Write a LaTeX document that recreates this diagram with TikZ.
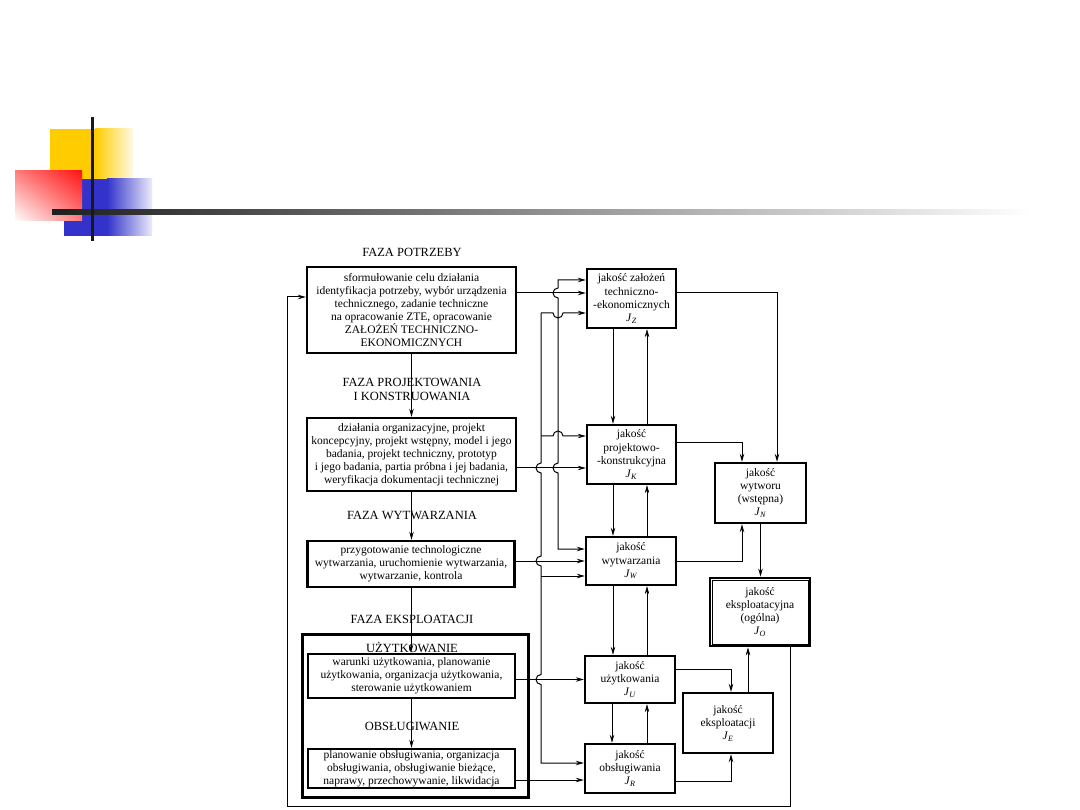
\documentclass[tikz,border=0pt]{standalone}
\usepackage{fontspec}
\setmainfont{Liberation Serif}
\usetikzlibrary{arrows.meta, shadings}

\newcommand{\jq}[1]{\textit{J}\textsubscript{\textit{#1}}}
\definecolor{slideyellow}{RGB}{255,204,0}
\definecolor{slidered}{RGB}{255,20,20}
\definecolor{slideblue}{RGB}{51,51,204}
\tikzset{
  box/.style 2 args={draw, line width=2.4pt, minimum width=#1, minimum height=#2},
  link/.style={-{Stealth[length=8pt, width=4.5pt]}, line width=1pt},
  back/.style={link, line width=0.6pt},
  phaselabel/.style={font=\fontsize{12.5}{13.5}\selectfont},
}

\begin{document}
\begin{tikzpicture}[x=1pt, y=-1pt,
    every node/.style={font=\fontsize{11.5}{13.1}\selectfont, align=center, inner sep=0pt},
  ]
  \useasboundingbox (0,0) rectangle (1080,810);

  % slide ornament
  \fill[slideyellow] (50,129) rectangle (95,180);
  \shade[left color=slideyellow, right color=slideyellow!10] (95,129) rectangle (133,180);
  \fill[slideblue] (64,179) rectangle (107,236);
  \shade[left color=slideblue, right color=slideblue!10] (107,179) rectangle (152,236);
  \shade[upper right=slidered, lower left=white, upper left=slidered!55!white,
         lower right=slidered!55!white] (15,171) rectangle (82,221);
  \shade[left color=black!88, right color=white] (52,210) rectangle (1032,215);
  \fill[black!90] (90.5,117) rectangle (93.5,241);

  % phases
  \node[phaselabel] (lpotrz) at (412,252) {FAZA POTRZEBY};
  \node[box={209}{86}] (need) at (411.5,310) {sformułowanie celu działania\\
    identyfikacja potrzeby, wybór urządzenia\\technicznego, zadanie techniczne\\
    na opracowanie ZTE, opracowanie\\ZAŁOŻEŃ TECHNICZNO-\\EKONOMICZNYCH};
  \node[phaselabel] (lproj) at (412,389.5) {FAZA PROJEKTOWANIA\\I KONSTRUOWANIA};
  \node[box={209}{73}] (proj) at (411.5,454.5) {działania organizacyjne, projekt\\
    koncepcyjny, projekt wstępny, model i jego\\badania, projekt techniczny, prototyp\\
    i jego badania, partia próbna i jej badania,\\weryfikacja dokumentacji technicznej};
  \node[phaselabel] (lwytw) at (412,515) {FAZA WYTWARZANIA};
  \node[box={207}{46}] (wytw) at (411,564) {przygotowanie technologiczne\\
    wytwarzania, uruchomienie wytwarzania,\\wytwarzanie, kontrola};
  \node[phaselabel] (leksp) at (412,619.5) {FAZA EKSPLOATACJI};
  \node[box={226}{163}, line width=3pt] (eksp) at (415,715.5) {};
  \node[phaselabel] (luzyt) at (412,647) {UŻYTKOWANIE};
  \node[box={207}{44}] (uzyt) at (411.5,676) {warunki użytkowania, planowanie\\
    użytkowania, organizacja użytkowania,\\sterowanie użytkowaniem};
  \node[phaselabel] (lobsl) at (412,726) {OBSŁUGIWANIE};
  \node[box={207}{39}] (obsl) at (411.5,768.5) {planowanie obsługiwania, organizacja\\
    obsługiwania, obsługiwanie bieżące,\\naprawy, przechowywanie, likwidacja};

  % quality
  \node[box={89}{59}] (jz) at (631.5,298.5) {jakość założeń\\techniczno-\\-ekonomicznych\\\jq{Z}};
  \node[box={89}{59}] (jk) at (631.5,454.5) {jakość\\projektowo-\\-konstrukcyjna\\\jq{K}};
  \node[box={90}{48}] (jw) at (631,561)     {jakość\\wytwarzania\\\jq{W}};
  \node[box={90}{47}] (ju) at (630,679.5)   {jakość\\użytkowania\\\jq{U}};
  \node[box={90}{49}] (jr) at (630,768.5)   {jakość\\obsługiwania\\\jq{R}};
  \node[box={90}{60}] (je) at (728,723)     {jakość\\eksploatacji\\\jq{E}};
  \node[box={91}{60}] (jn) at (760.5,493)   {jakość\\wytworu\\(wstępna)\\\jq{N}};
  \node[box={100}{68}, line width=2.8pt] (jo) at (760,612) {jakość\\eksploatacyjna\\(ogólna)\\\jq{O}};
  \draw[line width=0.7pt] ([xshift=3.5pt, yshift=-3.5pt]jo.north west)
    rectangle ([xshift=-3.5pt, yshift=3.5pt]jo.south east);

  % phase flow
  \draw[link] (need) -- (proj);
  \draw[link] (proj.south) -- (proj.south |- wytw.north);
  \draw[link] (wytw.south) -- (wytw.south |- uzyt.north);
  \draw[link] (uzyt) -- (obsl);

  % phases to quality
  \coordinate (jz1) at ([yshift=5.5pt]jz.west);
  \coordinate (jk2) at ([yshift=-13.5pt]jk.west);
  \coordinate (jr2) at ([yshift=-11.5pt]jr.west);
  \draw[link] (need.east |- jz1) -- (jz1);
  \draw[link] (proj.east |- jk2) -- (jk2);
  \draw[link] (wytw.east |- jw.west) -- (jw.west);
  \draw[link] (uzyt.east |- ju.west) -- (ju.west);
  \draw[link] (obsl.east |- jr2) -- (jr2);

  % feedback lines
  \coordinate (za) at (558,280);
  \coordinate (wa) at (558,549);
  \coordinate (zb) at (541,313);
  \coordinate (kb) at (541,436);
  \coordinate (wb) at (541,576);
  \coordinate (rb) at (541,763);
  \draw[link, {Stealth[length=8pt, width=4.5pt]}-{Stealth[length=8pt, width=4.5pt]}]
    (jz.west |- za) -- (za)
    -- (558,288) arc[start angle=-90, end angle=-270, radius=5]
    -- (558,463) arc[start angle=-90, end angle=-270, radius=5]
    -- (wa) -- (jw.west |- wa);
  \draw[link] (zb)
    -- (541,463) arc[start angle=-90, end angle=-270, radius=5]
    -- (541,556) arc[start angle=-90, end angle=-270, radius=5]
    -- (541,674.5) arc[start angle=-90, end angle=-270, radius=5]
    -- (rb) -- (jr.west |- rb);
  \draw[link] (zb) -- (553,313) arc[start angle=180, end angle=0, radius=5] -- (jz.west |- zb);
  \draw[link] (kb) -- (553,436) arc[start angle=180, end angle=360, radius=5] -- (jk.west |- kb);
  \draw[link] (wb) -- (jw.west |- wb);

  % quality chain
  \draw[link] ([xshift=-18.5pt]jz.south) -- ([xshift=-18.5pt]jk.north);
  \draw[back] ([xshift=15.5pt]jk.north) -- ([xshift=15.5pt]jz.south);
  \draw[link] ([xshift=-18.5pt]jk.south) -- ([xshift=-18.5pt]jk.south |- jw.north);
  \draw[back] ([xshift=15.5pt]jk.south |- jw.north) -- ([xshift=15.5pt]jk.south);
  \draw[link] ([xshift=-18pt]jw.south) -- ([xshift=-18pt]jw.south |- ju.north);
  \draw[back] ([xshift=16pt]jw.south |- ju.north) -- ([xshift=16pt]jw.south);
  \draw[link] ([xshift=-18pt]ju.south) -- ([xshift=-18pt]jr.north);
  \draw[back] ([xshift=17pt]jr.north) -- ([xshift=17pt]ju.south);

  \draw[link] ([yshift=5.5pt]jz.east) -| ([xshift=16.5pt]jn.north);
  \draw[link] ([yshift=11.5pt]jk.east) -| ([xshift=-18.5pt]jn.north);
  \draw[link] (jw.east) -| ([xshift=-18.5pt]jn.south);
  \draw[link] (jn.south) -- (jn.south |- jo.north);
  \draw[link] ([yshift=10.5pt]ju.east) -| ([xshift=3pt]je.north);
  \draw[link] ([yshift=-12.5pt]jr.east) -| ([xshift=3pt]je.south);
  \draw[back] ([xshift=20pt]je.north) -- ([xshift=20pt]je.north |- jo.south);

  % overall loop
  \coordinate (loop) at (287,806);
  \coordinate (need1) at ([yshift=13pt]need.west);
  \draw[link] ([xshift=30pt]jo.south) |- (loop) |- (need1);
\end{tikzpicture}
\end{document}
